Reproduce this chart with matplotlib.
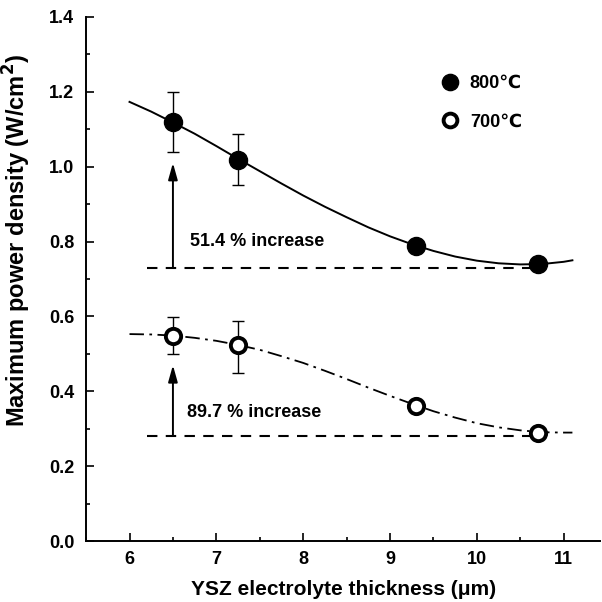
import matplotlib
matplotlib.use('Agg')
import matplotlib.pyplot as plt
from matplotlib.ticker import MultipleLocator

plt.rcParams['font.family'] = ['Liberation Sans', 'DejaVu Sans']
plt.rcParams['font.weight'] = 'bold'

# measured points
thick = [6.5, 7.25, 9.3, 10.7]
p800 = [1.118, 1.018, 0.789, 0.740]
e800_lo = [0.078, 0.068, 0.0, 0.0]
e800_hi = [0.082, 0.070, 0.0, 0.0]
p700 = [0.549, 0.523, 0.361, 0.289]
e700_lo = [0.049, 0.074, 0.0, 0.0]
e700_hi = [0.049, 0.065, 0.0, 0.0]

# fitted curves
fit_x = [6.0, 6.25, 6.5, 6.75, 7.0, 7.25, 7.5, 7.75, 8.0, 8.25, 8.5, 8.75,
         9.0, 9.25, 9.5, 9.75, 10.0, 10.25, 10.5, 10.75, 11.0, 11.1]
fit800 = [1.173, 1.147, 1.118, 1.088, 1.055, 1.021, 0.988, 0.955, 0.923, 0.893,
          0.865, 0.838, 0.814, 0.793, 0.775, 0.760, 0.749, 0.742, 0.739, 0.740,
          0.746, 0.750]
fit700 = [0.553, 0.552, 0.549, 0.543, 0.535, 0.524, 0.511, 0.494, 0.476, 0.455,
          0.433, 0.410, 0.388, 0.367, 0.347, 0.330, 0.315, 0.304, 0.296, 0.291,
          0.290, 0.290]

base800 = 0.730
base700 = 0.281
base_x = [6.2, 10.73]

fig = plt.figure(figsize=(6.02, 6.02), dpi=100)
ax = fig.add_axes([0.143, 0.101, 0.854, 0.871])

ax.plot(fit_x, fit800, color='black', lw=1.4)
ax.plot(fit_x, fit700, color='black', lw=1.3, ls=(0, (8, 3, 1.5, 3)))

ax.errorbar(thick, p800, yerr=[e800_lo, e800_hi], fmt='none', ecolor='black',
            elinewidth=1, capsize=4)
ax.errorbar(thick, p700, yerr=[e700_lo, e700_hi], fmt='none', ecolor='black',
            elinewidth=1, capsize=4)
ax.plot(thick, p800, 'o', color='black', ms=13, ls='none', label='800\u2103')
ax.plot(thick, p700, 'o', mfc='white', mec='black', mew=2.8, ms=11, ls='none',
        label='700\u2103')

ax.plot(base_x, [base800, base800], color='black', lw=1.5, ls=(0, (5, 4)))
ax.plot(base_x, [base700, base700], color='black', lw=1.5, ls=(0, (5, 4)))

ax.annotate('', xy=(6.5, 1.01), xytext=(6.5, base800),
            arrowprops=dict(arrowstyle='-|>,head_width=0.28,head_length=1.0',
                            color='black', lw=1.4, shrinkA=0, shrinkB=0))
ax.annotate('', xy=(6.5, 0.47), xytext=(6.5, base700),
            arrowprops=dict(arrowstyle='-|>,head_width=0.28,head_length=1.0',
                            color='black', lw=1.4, shrinkA=0, shrinkB=0))
ax.text(6.7, 0.80, '51.4 % increase', fontsize=13, fontweight='bold', va='center')
ax.text(6.66, 0.343, '89.7 % increase', fontsize=13, fontweight='bold', va='center')

ax.set_xlim(5.5, 11.42)
ax.set_ylim(0.0, 1.4)
ax.xaxis.set_major_locator(MultipleLocator(1))
ax.xaxis.set_minor_locator(MultipleLocator(0.5))
ax.yaxis.set_minor_locator(MultipleLocator(0.1))
ax.set_yticks([0.0, 0.2, 0.4, 0.6, 0.8, 1.0, 1.2, 1.4])
ax.set_yticklabels(['0.0', '0.2', '0.4', '0.6', '0.8', '1.0', '1.2', '1.4'])
ax.tick_params(which='major', direction='in', length=6, width=1.2, labelsize=13)
ax.tick_params(axis='y', which='major', pad=8.5)
ax.tick_params(axis='x', which='major', pad=7)
ax.tick_params(which='minor', direction='in', length=3, width=1.2)
for lab in ax.get_xticklabels() + ax.get_yticklabels():
    lab.set_fontweight('bold')
ax.spines['top'].set_visible(False)
ax.spines['right'].set_visible(False)
ax.spines['left'].set_linewidth(1.4)
ax.spines['bottom'].set_linewidth(1.4)

ax.set_xlabel('YSZ electrolyte thickness (\u03bcm)', fontsize=15, fontweight='bold', labelpad=9)
ax.set_ylabel('Maximum power density (W/cm$^\\mathbf{2}$)', fontsize=17, fontweight='bold')
ax.yaxis.set_label_coords(-0.103, 0.574)

ax.legend(loc='upper left', bbox_to_anchor=(0.655, 0.92), frameon=False,
          fontsize=13, handletextpad=0.5, labelspacing=1.2, handlelength=1.2,
          markerscale=0.9)

fig.savefig('out.png', dpi=100)
